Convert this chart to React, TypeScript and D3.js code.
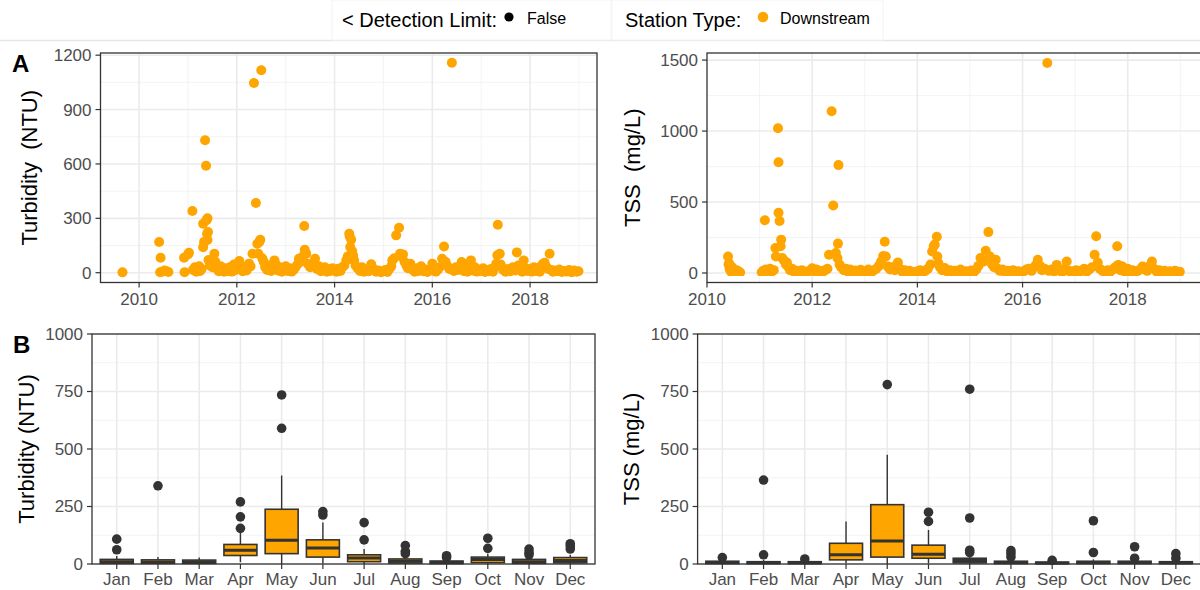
import * as d3 from "d3";
import React from "react";

type Pt = [number, number];

// ---- time series (decimal year, value) ----
const turb2010: Pt[] = [
  [2009.66, 2], [2010.41, 169], [2010.44, 83], [2010.43, 3], [2010.47, 5], [2010.52, 12],
  [2010.56, 8], [2010.6, 4], [2010.92, 83], [2010.93, 3], [2011.0, 100], [2011.02, 110],
];
const turb2011: Pt[] = [
  [2011.09, 340], [2011.1, 15], [2011.14, 30], [2011.17, 5], [2011.2, 25], [2011.23, 35],
  [2011.25, 10], [2011.28, 20], [2011.31, 270], [2011.31, 140], [2011.33, 170], [2011.35, 731],
  [2011.37, 590], [2011.38, 290], [2011.39, 215], [2011.4, 300], [2011.41, 225], [2011.4, 180],
  [2011.42, 70], [2011.45, 40], [2011.5, 30], [2011.54, 105], [2011.56, 60], [2011.6, 20],
  [2011.63, 8], [2011.67, 35], [2011.7, 12], [2011.74, 5], [2011.78, 25], [2011.82, 10],
  [2011.86, 30], [2011.9, 6], [2011.94, 45], [2011.97, 15],
];
const turb2012: Pt[] = [
  [2012.02, 50], [2012.05, 65], [2012.08, 20], [2012.12, 8], [2012.16, 30], [2012.2, 12],
  [2012.25, 50], [2012.28, 35], [2012.32, 105], [2012.35, 1047], [2012.39, 385], [2012.42, 160],
  [2012.44, 105], [2012.46, 170], [2012.48, 182], [2012.5, 1117], [2012.52, 80], [2012.55, 60],
  [2012.58, 30], [2012.62, 15], [2012.66, 40], [2012.7, 10], [2012.74, 25], [2012.77, 68],
  [2012.8, 45], [2012.84, 12], [2012.88, 30], [2012.92, 5], [2012.96, 20],
];
const turb2013: Pt[] = [
  [2013.0, 35], [2013.04, 10], [2013.08, 25], [2013.12, 6], [2013.16, 15], [2013.2, 30],
  [2013.24, 45], [2013.27, 77], [2013.3, 60], [2013.35, 90], [2013.38, 258], [2013.39, 127],
  [2013.42, 105], [2013.45, 50], [2013.5, 30], [2013.55, 40], [2013.6, 77], [2013.64, 20],
  [2013.68, 35], [2013.72, 8], [2013.76, 15], [2013.8, 30], [2013.84, 5], [2013.88, 20],
  [2013.92, 10], [2013.96, 25],
];
const turb2014: Pt[] = [
  [2014.0, 15], [2014.04, 5], [2014.08, 22], [2014.12, 10], [2014.16, 30], [2014.2, 40],
  [2014.24, 68], [2014.27, 90], [2014.3, 215], [2014.31, 200], [2014.32, 142], [2014.34, 182],
  [2014.36, 120], [2014.38, 95], [2014.4, 68], [2014.43, 40], [2014.47, 25], [2014.52, 10],
  [2014.56, 30], [2014.6, 5], [2014.65, 15], [2014.7, 8], [2014.75, 46], [2014.8, 20],
  [2014.85, 5], [2014.9, 12], [2014.95, 3],
];
const turb2015: Pt[] = [
  [2015.0, 8], [2015.04, 15], [2015.08, 4], [2015.12, 20], [2015.16, 35], [2015.18, 68],
  [2015.22, 80], [2015.26, 206], [2015.32, 248], [2015.34, 105], [2015.37, 90], [2015.4, 101],
  [2015.43, 60], [2015.47, 40], [2015.5, 25], [2015.55, 50], [2015.6, 15], [2015.64, 5],
  [2015.68, 25], [2015.72, 10], [2015.77, 35], [2015.82, 8], [2015.86, 18], [2015.9, 4],
  [2015.95, 12],
];
const turb2016: Pt[] = [
  [2016.0, 50], [2016.03, 20], [2016.07, 6], [2016.11, 15], [2016.15, 30], [2016.2, 77],
  [2016.24, 145], [2016.27, 60], [2016.3, 40], [2016.35, 20], [2016.4, 1158], [2016.44, 10],
  [2016.48, 30], [2016.52, 15], [2016.56, 25], [2016.6, 59], [2016.64, 10], [2016.68, 35],
  [2016.72, 5], [2016.76, 20], [2016.79, 68], [2016.83, 12], [2016.87, 30], [2016.91, 6],
  [2016.95, 18],
];
const turb2017: Pt[] = [
  [2017.0, 10], [2017.04, 25], [2017.08, 4], [2017.12, 15], [2017.16, 8], [2017.2, 20],
  [2017.24, 5], [2017.28, 30], [2017.31, 50], [2017.33, 96], [2017.34, 265], [2017.38, 105],
  [2017.4, 45], [2017.45, 15], [2017.5, 5], [2017.55, 20], [2017.6, 8], [2017.65, 30],
  [2017.7, 12], [2017.73, 112], [2017.76, 40], [2017.8, 15], [2017.84, 5], [2017.87, 68],
  [2017.9, 25], [2017.95, 10],
];
const turb2018: Pt[] = [
  [2018.0, 20], [2018.04, 6], [2018.08, 30], [2018.12, 10], [2018.16, 25], [2018.2, 5],
  [2018.24, 40], [2018.27, 50], [2018.3, 55], [2018.34, 30], [2018.37, 20], [2018.4, 105],
  [2018.43, 15], [2018.47, 5], [2018.5, 12], [2018.55, 8], [2018.6, 18], [2018.65, 4],
  [2018.7, 10], [2018.75, 6], [2018.8, 15], [2018.85, 3], [2018.9, 12], [2018.95, 5],
  [2018.99, 8],
];

const tss2010: Pt[] = [
  [2010.4, 116], [2010.41, 60], [2010.42, 69], [2010.43, 30], [2010.44, 21], [2010.46, 8],
  [2010.48, 40], [2010.5, 15], [2010.53, 5], [2010.56, 20], [2010.6, 10], [2010.63, 3],
];
const tss2011: Pt[] = [
  [2011.04, 5], [2011.07, 15], [2011.1, 371], [2011.12, 25], [2011.15, 8], [2011.2, 30],
  [2011.24, 12], [2011.27, 20], [2011.3, 176], [2011.31, 116], [2011.35, 1020], [2011.36, 780],
  [2011.36, 425], [2011.38, 366], [2011.4, 188], [2011.41, 235], [2011.43, 105], [2011.46, 90],
  [2011.5, 60], [2011.52, 74], [2011.55, 40], [2011.58, 20], [2011.62, 30], [2011.66, 8],
  [2011.7, 15], [2011.75, 5], [2011.8, 20], [2011.85, 10], [2011.9, 3], [2011.95, 15],
];
const tss2012: Pt[] = [
  [2012.0, 33], [2012.04, 12], [2012.08, 25], [2012.12, 5], [2012.16, 15], [2012.2, 8],
  [2012.25, 20], [2012.29, 30], [2012.32, 128], [2012.37, 1140], [2012.4, 475], [2012.45, 140],
  [2012.48, 105], [2012.49, 207], [2012.5, 760], [2012.52, 60], [2012.55, 40], [2012.6, 20],
  [2012.64, 30], [2012.68, 10], [2012.72, 25], [2012.77, 5], [2012.82, 18], [2012.87, 8],
  [2012.92, 22], [2012.97, 4],
];
const tss2013: Pt[] = [
  [2013.02, 12], [2013.07, 25], [2013.12, 6], [2013.17, 18], [2013.22, 30], [2013.27, 50],
  [2013.31, 81], [2013.35, 120], [2013.38, 220], [2013.4, 116], [2013.44, 45], [2013.48, 25],
  [2013.52, 40], [2013.57, 20], [2013.6, 55], [2013.63, 74], [2013.67, 30], [2013.71, 10],
  [2013.76, 20], [2013.8, 5], [2013.85, 15], [2013.9, 8], [2013.95, 3],
];
const tss2014: Pt[] = [
  [2014.0, 10], [2014.05, 20], [2014.1, 5], [2014.15, 15], [2014.2, 30], [2014.25, 60],
  [2014.28, 152], [2014.31, 188], [2014.33, 200], [2014.37, 255], [2014.38, 116], [2014.4, 69],
  [2014.43, 40], [2014.47, 20], [2014.52, 35], [2014.57, 10], [2014.62, 20], [2014.67, 5],
  [2014.72, 15], [2014.77, 8], [2014.82, 25], [2014.87, 4], [2014.92, 12], [2014.97, 6],
];
const tss2015: Pt[] = [
  [2015.02, 18], [2015.07, 5], [2015.12, 25], [2015.16, 50], [2015.2, 105], [2015.25, 80],
  [2015.3, 157], [2015.35, 288], [2015.38, 116], [2015.42, 60], [2015.46, 40], [2015.49, 93],
  [2015.53, 30], [2015.57, 15], [2015.62, 25], [2015.67, 6], [2015.72, 15], [2015.77, 4],
  [2015.82, 20], [2015.87, 8], [2015.92, 12], [2015.97, 3],
];
const tss2016: Pt[] = [
  [2016.02, 10], [2016.07, 25], [2016.12, 30], [2016.17, 15], [2016.22, 40], [2016.26, 60],
  [2016.29, 93], [2016.33, 50], [2016.37, 20], [2016.42, 30], [2016.47, 1480], [2016.5, 15],
  [2016.55, 25], [2016.6, 10], [2016.65, 57], [2016.7, 20], [2016.75, 5], [2016.8, 30],
  [2016.84, 81], [2016.88, 15], [2016.93, 4], [2016.97, 12],
];
const tss2017: Pt[] = [
  [2017.02, 20], [2017.07, 6], [2017.12, 15], [2017.17, 30], [2017.22, 10], [2017.27, 25],
  [2017.32, 40], [2017.37, 128], [2017.4, 259], [2017.43, 74], [2017.47, 30], [2017.52, 15],
  [2017.57, 5], [2017.62, 20], [2017.67, 10], [2017.72, 25], [2017.76, 40], [2017.8, 188],
  [2017.82, 57], [2017.86, 20], [2017.9, 45], [2017.95, 8],
];
const tss2018: Pt[] = [
  [2018.0, 30], [2018.04, 10], [2018.09, 20], [2018.14, 5], [2018.19, 15], [2018.24, 25],
  [2018.28, 45], [2018.32, 30], [2018.37, 15], [2018.42, 50], [2018.46, 81], [2018.5, 30],
  [2018.55, 10], [2018.6, 20], [2018.65, 5], [2018.7, 15], [2018.75, 4], [2018.8, 12],
  [2018.85, 6], [2018.9, 15], [2018.95, 3], [2018.99, 8],
];

const turbPoints = [...turb2010, ...turb2011, ...turb2012, ...turb2013, ...turb2014, ...turb2015, ...turb2016, ...turb2017, ...turb2018];
const tssPoints = [...tss2010, ...tss2011, ...tss2012, ...tss2013, ...tss2014, ...tss2015, ...tss2016, ...tss2017, ...tss2018];

// ---- monthly box stats (panel B) ----
const months = ["Jan", "Feb", "Mar", "Apr", "May", "Jun", "Jul", "Aug", "Sep", "Oct", "Nov", "Dec"];
const turbLow = [0, 0, 0, 8, 0, 2, 0, 0, 0, 0, 0, 0];
const turbQ1 = [3, 3, 3, 37, 45, 30, 10, 4, 2, 6, 3, 5];
const turbMed = [10, 8, 8, 60, 103, 70, 26, 12, 6, 20, 10, 15];
const turbQ3 = [20, 18, 17, 85, 238, 105, 40, 22, 13, 30, 20, 28];
const turbHigh = [35, 30, 28, 140, 385, 180, 65, 35, 22, 45, 30, 40];
const turbOut = [[62, 108], [340], [], [155, 205, 270], [590, 735], [213, 228], [105, 180], [45, 55, 80], [28, 36], [68, 112], [40, 50, 65], [65, 78, 88]];

const tssLow = [0, 0, 0, 3, 0, 3, 0, 0, 0, 0, 0, 0];
const tssQ1 = [2, 2, 2, 18, 30, 25, 5, 2, 2, 2, 2, 2];
const tssMed = [6, 5, 5, 40, 100, 42, 15, 6, 4, 6, 6, 5];
const tssQ3 = [12, 10, 10, 90, 258, 82, 25, 12, 8, 12, 12, 10];
const tssHigh = [20, 18, 15, 185, 475, 148, 40, 20, 12, 20, 18, 15];
const tssOut = [[28], [40, 365], [22], [], [780], [185, 225], [50, 60, 200, 760], [30, 45, 58], [16], [50, 188], [25, 75], [25, 45]];

// ---- axis ticks ----
const yearMajor = [2010, 2012, 2014, 2016, 2018];
const yearMinor = [2009, 2011, 2013, 2015, 2017, 2019];
const turbMajor = [0, 300, 600, 900, 1200];
const turbMinor = [150, 450, 750, 1050];
const tssMajor = [0, 500, 1000, 1500];
const tssMinor = [250, 750, 1250];
const boxMajor = [0, 250, 500, 750, 1000];
const boxMinor = [125, 375, 625, 875];

const FONT = "'Liberation Sans', Arial, Helvetica, sans-serif";
const ORANGE = "#FFA500";
const DARK = "#333333";
const TICK = "#4d4d4d";

function YAxis({ y, ticks, left, title, titleX, top, bottom }: any) {
  return (
    <g fontFamily={FONT}>
      {ticks.map((t: number) => (
        <g key={t}>
          <line x1={left - 5} x2={left} y1={y(t)} y2={y(t)} stroke={DARK} strokeWidth={1.2} />
          <text x={left - 9} y={y(t)} dy="0.35em" textAnchor="end" fontSize={17} fill={TICK}>{t}</text>
        </g>
      ))}
      <text
        transform={`translate(${titleX},${(top + bottom) / 2}) rotate(-90)`}
        textAnchor="middle"
        dy="0.35em"
        fontSize={22}
        fill="#000"
        style={{ whiteSpace: "pre" }}
      >{title}</text>
    </g>
  );
}

function ScatterPanel({ id, points, left, right, top, bottom, xDomain, yDomain, yMajor, yMinor, title, titleX, clipBottom }: any) {
  const x = d3.scaleLinear().domain(xDomain).range([left, right]);
  const y = d3.scaleLinear().domain(yDomain).range([bottom, top]);
  const inX = (v: number) => x(v) > left && x(v) < right;
  return (
    <g>
      <defs>
        <clipPath id={id}>
          <rect x={left} y={top} width={right - left} height={(clipBottom ?? bottom) - top} />
        </clipPath>
      </defs>
      <rect x={left} y={top} width={right - left} height={bottom - top} fill="#fff" />
      {yMinor.map((t: number) => (
        <line key={"ym" + t} x1={left} x2={right} y1={y(t)} y2={y(t)} stroke="#f2f2f2" strokeWidth={0.9} />
      ))}
      {yearMinor.filter(inX).map((t) => (
        <line key={"xm" + t} x1={x(t)} x2={x(t)} y1={top} y2={bottom} stroke="#f2f2f2" strokeWidth={0.9} />
      ))}
      {yMajor.map((t: number) => (
        <line key={"yM" + t} x1={left} x2={right} y1={y(t)} y2={y(t)} stroke="#ebebeb" strokeWidth={1.6} />
      ))}
      {yearMajor.filter(inX).map((t) => (
        <line key={"xM" + t} x1={x(t)} x2={x(t)} y1={top} y2={bottom} stroke="#ebebeb" strokeWidth={1.6} />
      ))}
      <g clipPath={`url(#${id})`}>
        {points.map((p: Pt, i: number) => (
          <circle key={i} cx={x(p[0])} cy={y(p[1])} r={5} fill={ORANGE} />
        ))}
      </g>
      <rect x={left} y={top} width={right - left} height={bottom - top} fill="none" stroke={DARK} strokeWidth={1.3} />
      {yearMajor.map((t) => (
        <g key={"xt" + t} fontFamily={FONT}>
          <line x1={x(t)} x2={x(t)} y1={bottom} y2={bottom + 5} stroke={DARK} strokeWidth={1.2} />
          <text x={x(t)} y={bottom + 22.5} textAnchor="middle" fontSize={17} fill={TICK}>{t}</text>
        </g>
      ))}
      <YAxis y={y} ticks={yMajor} left={left} title={title} titleX={titleX} top={top} bottom={bottom} />
    </g>
  );
}

function BoxPanel({ left, right, top, bottom, low, q1, med, q3, high, outliers, title, titleX }: any) {
  const x = d3.scalePoint<string>().domain(months).range([left, right]).padding(0.6);
  const y = d3.scaleLinear().domain([0, 1000]).range([bottom, top]);
  const bw = x.step() * 0.8;
  return (
    <g>
      <rect x={left} y={top} width={right - left} height={bottom - top} fill="#fff" />
      {boxMinor.map((t) => (
        <line key={"ym" + t} x1={left} x2={right} y1={y(t)} y2={y(t)} stroke="#f2f2f2" strokeWidth={0.9} />
      ))}
      {boxMajor.map((t) => (
        <line key={"yM" + t} x1={left} x2={right} y1={y(t)} y2={y(t)} stroke="#ebebeb" strokeWidth={1.6} />
      ))}
      {months.map((m) => (
        <line key={"xM" + m} x1={x(m)} x2={x(m)} y1={top} y2={bottom} stroke="#ebebeb" strokeWidth={1.6} />
      ))}
      {months.map((m, i) => {
        const cx = x(m) as number;
        return (
          <g key={m}>
            <line x1={cx} x2={cx} y1={y(q3[i])} y2={y(high[i])} stroke={DARK} strokeWidth={1.4} />
            <line x1={cx} x2={cx} y1={y(q1[i])} y2={y(low[i])} stroke={DARK} strokeWidth={1.4} />
            <rect x={cx - bw / 2} y={y(q3[i])} width={bw} height={Math.max(y(q1[i]) - y(q3[i]), 0)} fill={ORANGE} stroke={DARK} strokeWidth={1.6} />
            <line x1={cx - bw / 2} x2={cx + bw / 2} y1={y(med[i])} y2={y(med[i])} stroke={DARK} strokeWidth={3} />
            {outliers[i].map((v: number, j: number) => (
              <circle key={j} cx={cx} cy={y(v)} r={4.8} fill={DARK} />
            ))}
          </g>
        );
      })}
      <rect x={left} y={top} width={right - left} height={bottom - top} fill="none" stroke={DARK} strokeWidth={1.3} />
      {months.map((m) => (
        <g key={"xt" + m} fontFamily={FONT}>
          <line x1={x(m)} x2={x(m)} y1={bottom} y2={bottom + 5} stroke={DARK} strokeWidth={1.2} />
          <text x={x(m)} y={bottom + 21} textAnchor="middle" fontSize={17} fill={TICK}>{m}</text>
        </g>
      ))}
      <YAxis y={y} ticks={boxMajor} left={left} title={title} titleX={titleX} top={top} bottom={bottom} />
    </g>
  );
}

export default function App() {
  return (
    <svg
      width={1200}
      height={590}
      viewBox="0 0 1200 590"
      style={{ position: "absolute", left: 0, top: 0, background: "#fff" }}
      fontFamily={FONT}
    >
      {/* legend strip */}
      <line x1={0} x2={1200} y1={40.5} y2={40.5} stroke="#e6e6e6" strokeWidth={1.5} />
      <rect x={332} y={0} width={279} height={40} fill="#fff" stroke="#f3f3f3" />
      <rect x={612} y={0} width={271} height={40} fill="#fff" stroke="#f3f3f3" />
      <text x={342} y={26.5} fontSize={20} fill="#000">{"< Detection Limit:"}</text>
      <circle cx={509} cy={17} r={4.6} fill="#000" />
      <text x={527} y={23.5} fontSize={16} fill="#000">False</text>
      <text x={625} y={26.5} fontSize={20} fill="#000">Station Type:</text>
      <circle cx={763} cy={17} r={5.3} fill={ORANGE} />
      <text x={780} y={23.5} fontSize={16} fill="#000">Downstream</text>

      <text x={12} y={72} fontSize={24} fontWeight="bold" fill="#000">A</text>
      <text x={13} y={353} fontSize={24} fontWeight="bold" fill="#000">B</text>

      <ScatterPanel
        id="clipA1"
        points={turbPoints}
        left={100.5}
        right={597}
        top={53}
        bottom={282.5}
        xDomain={[2009.21, 2019.37]}
        yDomain={[-54, 1212]}
        yMajor={turbMajor}
        yMinor={turbMinor}
        title={"Turbidity  (NTU)"}
        titleX={29}
      />
      <ScatterPanel
        id="clipA2"
        points={tssPoints}
        left={707}
        right={1204}
        top={53}
        bottom={282.5}
        xDomain={[2010, 2019.45]}
        yDomain={[-67, 1550]}
        yMajor={tssMajor}
        yMinor={tssMinor}
        title={"TSS  (mg/L)"}
        titleX={632}
        clipBottom={276}
      />
      <BoxPanel
        left={92}
        right={595}
        top={334}
        bottom={564}
        low={turbLow}
        q1={turbQ1}
        med={turbMed}
        q3={turbQ3}
        high={turbHigh}
        outliers={turbOut}
        title="Turbidity (NTU)"
        titleX={26}
      />
      <BoxPanel
        left={697.6}
        right={1200.6}
        top={334}
        bottom={564}
        low={tssLow}
        q1={tssQ1}
        med={tssMed}
        q3={tssQ3}
        high={tssHigh}
        outliers={tssOut}
        title="TSS (mg/L)"
        titleX={631}
      />
    </svg>
  );
}
